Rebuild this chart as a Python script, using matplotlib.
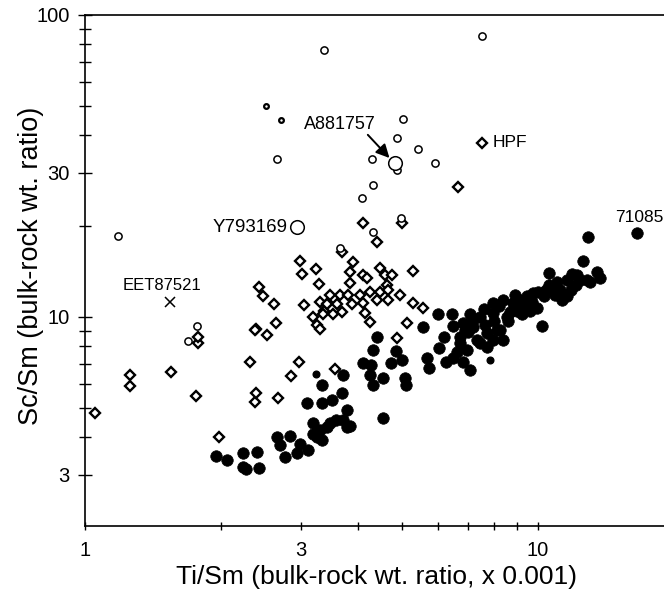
import numpy as np
import matplotlib.pyplot as plt
from matplotlib.ticker import FixedLocator, FixedFormatter, NullFormatter

plt.rcParams['font.family'] = ['Liberation Sans', 'DejaVu Sans']

# filled circles (mare basalts)
filled_ti = [1.95, 2.06, 2.23, 2.40, 2.23, 2.27, 2.42, 2.65, 2.84, 2.69, 2.76, 2.93, 2.98, 3.11,
             3.19, 3.25, 3.33, 3.30, 3.47, 3.19, 3.42, 3.58, 3.79, 3.71, 3.85, 3.09, 3.33, 3.51,
             3.69, 3.79, 3.33, 3.71, 4.55, 4.11, 4.28, 4.32, 4.41, 4.73, 4.86, 5.01, 4.26, 4.55,
             4.32, 5.09, 5.12, 5.69, 5.74, 6.04, 6.27, 6.49, 6.62, 6.97, 6.83, 7.08, 6.73, 7.33,
             7.72, 7.72, 7.96, 8.25, 6.00, 6.46, 5.57, 7.19, 7.45, 6.83, 7.19, 6.73, 7.45, 8.13,
             8.37, 7.96, 7.96, 8.37, 8.81, 8.89, 8.55, 8.97, 9.46, 9.60, 9.95, 9.75, 10.0, 10.3,
             10.6, 10.6, 11.0, 11.2, 11.3, 11.6, 11.6, 12.2, 12.8, 13.5, 13.7, 10.2, 12.6, 12.9,
             16.5, 9.13, 9.36, 10.4, 10.9, 11.8, 12.1, 12.4, 13.0, 8.68, 7.64, 6.90, 7.08,
             6.20, 6.50, 7.00, 8.60, 9.20, 9.00, 8.00, 7.60, 8.20, 10.8, 11.9, 9.7]
filled_sc = [3.46, 3.36, 3.55, 3.57, 3.18, 3.13, 3.16, 4.00, 4.03, 3.77, 3.44, 3.53, 3.80, 3.63,
             4.09, 4.00, 3.91, 4.22, 4.46, 4.46, 4.32, 4.56, 4.32, 4.56, 4.36, 5.19, 5.19, 5.31,
             5.60, 4.92, 5.95, 6.43, 4.64, 7.05, 6.93, 7.77, 8.60, 7.05, 7.72, 7.20, 6.43, 6.28,
             5.95, 6.28, 5.95, 7.31, 6.78, 7.88, 7.10, 7.31, 7.65, 7.77, 7.10, 6.68, 8.20, 8.39,
             8.85, 7.96, 8.39, 9.06, 10.2, 10.2, 9.27, 9.78, 9.98, 9.55, 9.27, 8.60, 8.20, 9.06,
             8.39, 10.3, 11.1, 11.4, 11.1, 11.8, 10.0, 10.5, 11.7, 10.5, 10.7, 12.0, 12.1, 11.7,
             12.8, 14.0, 13.1, 12.3, 11.4, 13.3, 11.7, 13.8, 13.3, 14.1, 13.5, 9.33, 15.3, 18.4,
             19.0, 11.4, 11.0, 12.3, 11.8, 12.3, 12.8, 13.3, 13.1, 10.4, 9.41, 9.06, 10.2,
             8.60, 9.30, 8.90, 9.70, 10.2, 11.0, 9.70, 10.6, 10.9, 12.6, 13.9, 11.2]
small_filled_ti = [3.24, 7.84]
small_filled_sc = [6.48, 7.20]

# open diamonds
diam_ti = [1.05, 1.26, 1.26, 1.55, 1.76, 1.78, 1.78, 1.98, 2.31, 2.38, 2.42, 2.47, 2.61, 2.37,
           2.38, 2.67, 2.85, 2.97, 3.56, 2.64, 2.37, 2.52, 2.98, 3.01, 3.24, 3.29, 3.04, 3.30,
           3.37, 3.44, 3.18, 3.25, 3.30, 4.11, 5.00, 4.41, 3.69, 3.91, 3.85, 4.11, 4.19, 4.48,
           4.59, 4.76, 5.30, 3.85, 4.64, 3.48, 3.66, 3.81, 4.05, 4.26, 4.48, 4.66, 4.96, 3.42,
           3.60, 3.88, 4.11, 4.41, 4.66, 3.35, 3.53, 3.69, 4.15, 4.26, 5.30, 5.57, 5.14, 4.88,
           6.66, 7.52]
diam_sc = [4.81, 6.43, 5.92, 6.58, 5.47, 8.20, 8.60, 4.01, 7.10, 9.12, 12.6, 11.7, 11.0, 5.24,
           5.60, 5.39, 6.38, 7.10, 6.73, 9.55, 9.06, 8.71, 15.3, 13.9, 14.4, 12.9, 10.96, 11.2,
           10.5, 11.1, 10.0, 9.41, 9.13, 20.4, 20.5, 17.7, 16.4, 15.2, 14.1, 13.8, 13.5, 14.5,
           13.8, 13.8, 14.2, 13.0, 12.8, 11.8, 11.8, 11.8, 11.8, 12.1, 12.1, 12.3, 11.8, 11.0,
           11.0, 11.0, 11.1, 11.4, 11.4, 10.2, 10.2, 10.4, 10.3, 9.60, 11.1, 10.7, 9.55, 8.51,
           26.9, 37.7]

# open circles
circ_ti = [3.37, 7.52, 2.65, 5.03, 4.88, 5.43, 5.93, 4.30, 4.88, 4.32, 4.08, 4.99, 4.32, 3.66,
           1.18, 1.77, 1.69]
circ_sc = [76.5, 85.0, 33.3, 45.3, 39.2, 36.0, 32.4, 33.3, 30.7, 27.4, 24.8, 21.3, 19.1, 16.9,
           18.5, 9.33, 8.34]
tiny_ti = [2.51, 2.71]
tiny_sc = [50.0, 44.9]
big_ti = [4.84, 2.94]
big_sc = [32.4, 19.8]
cross_ti = [1.54]
cross_sc = [11.2]

fig = plt.figure(figsize=(6.64, 5.94), dpi=100)
ax = fig.add_axes([85 / 664, 68 / 594, 579 / 664, 511 / 594])
ax.set_xscale('log')
ax.set_yscale('log')

ax.plot(filled_ti, filled_sc, 'o', ms=8.3, mfc='k', mec='k', mew=0.5, ls='none', zorder=2)
ax.plot(small_filled_ti, small_filled_sc, 'o', ms=4.8, mfc='k', mec='k', ls='none', zorder=2)
ax.plot(diam_ti, diam_sc, 'D', ms=5.2, mfc='white', mec='k', mew=1.7, ls='none', zorder=3)
ax.plot(circ_ti, circ_sc, 'o', ms=5.2, mfc='white', mec='k', mew=1.1, ls='none', zorder=4)
ax.plot(tiny_ti, tiny_sc, 'o', ms=3.4, mfc='white', mec='k', mew=1.6, ls='none', zorder=4)
ax.plot(big_ti, big_sc, 'o', ms=9.8, mfc='white', mec='k', mew=1.1, ls='none', zorder=5)
ax.plot(cross_ti, cross_sc, 'x', ms=6.5, mec='k', mew=1.1, ls='none', zorder=4)

fs = 12.5
ax.text(1.48, 12.7, 'EET87521', fontsize=12, ha='center', va='center')
ax.text(2.80, 19.8, 'Y793169', fontsize=13.5, ha='right', va='center')
ax.text(3.04, 43.3, 'A881757', fontsize=13, ha='left', va='center')
ax.text(7.93, 37.7, 'HPF', fontsize=fs, ha='left', va='center')
ax.text(16.7, 21.3, '71085', fontsize=fs, ha='center', va='center')
ax.annotate('', xy=(4.70, 33.6), xytext=(4.21, 40.1),
            arrowprops=dict(arrowstyle='-|>', color='k', lw=1.4, mutation_scale=20,
                            shrinkA=0, shrinkB=0))

ax.set_xlim(1, 18.97)
ax.set_ylim(2.03, 100)

ax.xaxis.set_major_locator(FixedLocator([1, 3, 10]))
ax.xaxis.set_major_formatter(FixedFormatter(['1', '3', '10']))
ax.xaxis.set_minor_locator(FixedLocator([2, 4, 5, 6, 7, 8, 9]))
ax.xaxis.set_minor_formatter(NullFormatter())
ax.yaxis.set_major_locator(FixedLocator([3, 10, 30, 100]))
ax.yaxis.set_major_formatter(FixedFormatter(['3', '10', '30', '100']))
ax.yaxis.set_minor_locator(FixedLocator([4, 5, 6, 7, 8, 9, 20, 40, 50, 60, 70, 80, 90]))
ax.yaxis.set_minor_formatter(NullFormatter())

ax.tick_params(axis='x', which='both', direction='inout', length=6, width=1, pad=8, labelsize=14.5)
ax.tick_params(axis='y', which='major', direction='inout', length=10, width=1, pad=6, labelsize=14.5)
ax.tick_params(axis='y', which='minor', direction='inout', length=8, width=1)
ax.tick_params(top=False, right=False, which='both')

ax.spines['right'].set_visible(False)
for s in ['left', 'bottom', 'top']:
    ax.spines[s].set_linewidth(1.2)

ax.set_xlabel('Ti/Sm (bulk-rock wt. ratio, x 0.001)', fontsize=19)
ax.set_ylabel('Sc/Sm (bulk-rock wt. ratio)', fontsize=19.5)
ax.xaxis.set_label_coords(0.504, -0.077)
ax.yaxis.set_label_coords(-0.07, 0.509)

fig.savefig('out.png', dpi=100)
